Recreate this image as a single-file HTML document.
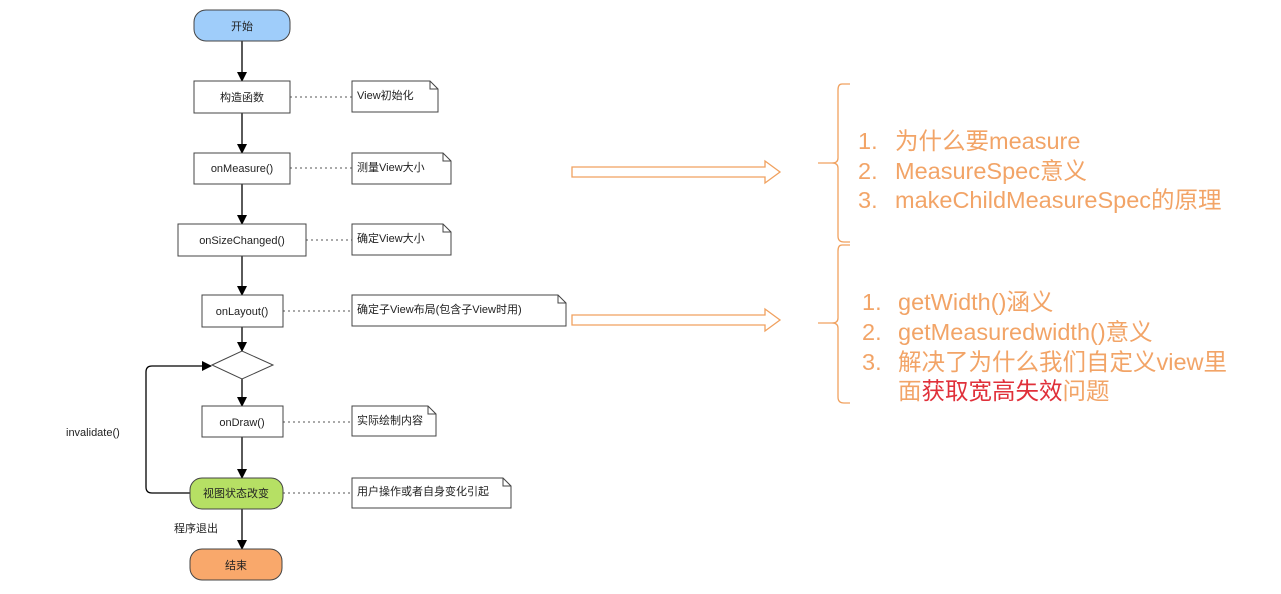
<!DOCTYPE html>
<html><head><meta charset="utf-8"><style>
body{margin:0;background:#fff;}
svg{display:block;font-family:"Liberation Sans","Noto Sans CJK SC",sans-serif;}
.n{font-size:11px;fill:#222;}
.o{font-size:23.5px;fill:#f2a467;font-family:"Liberation Sans","Noto Sans CJK SC",sans-serif;}
</style></head><body>
<svg width="1281" height="594" viewBox="0 0 1281 594">
<defs><marker id="a" markerWidth="10" markerHeight="10" refX="9" refY="5" orient="auto" markerUnits="userSpaceOnUse"><path d="M0,0 L10,5 L0,10 z" fill="#000"/></marker></defs>
<g stroke="#000" stroke-width="1.3" fill="none">
<line x1="242" y1="41" x2="242" y2="81" marker-end="url(#a)"/>
<line x1="242" y1="113" x2="242" y2="153" marker-end="url(#a)"/>
<line x1="242" y1="184" x2="242" y2="224" marker-end="url(#a)"/>
<line x1="242" y1="256" x2="242" y2="295" marker-end="url(#a)"/>
<line x1="242" y1="327" x2="242" y2="351" marker-end="url(#a)"/>
<line x1="242" y1="379" x2="242" y2="406" marker-end="url(#a)"/>
<line x1="242" y1="437" x2="242" y2="478" marker-end="url(#a)"/>
<line x1="242" y1="509" x2="242" y2="549" marker-end="url(#a)"/>
<path d="M190,493 L152,493 Q146,493 146,487 L146,372 Q146,366 152,366 L211,366" marker-end="url(#a)"/>
</g>
<g stroke="#555" stroke-width="1" stroke-dasharray="2,3">
<line x1="290" y1="97" x2="352" y2="97"/>
<line x1="290" y1="168" x2="352" y2="168"/>
<line x1="306" y1="240" x2="352" y2="240"/>
<line x1="283" y1="311" x2="352" y2="311"/>
<line x1="283" y1="422" x2="352" y2="422"/>
<line x1="283" y1="493" x2="352" y2="493"/>
</g>
<g stroke="#444" stroke-width="1" fill="#fff">
<rect x="194" y="10" width="96" height="31" rx="12" fill="#9fcdfa"/>
<rect x="194" y="81" width="96" height="32"/>
<rect x="194" y="153" width="96" height="31"/>
<rect x="178" y="224" width="128" height="32"/>
<rect x="202" y="295" width="81" height="32"/>
<polygon points="212,365 242,351 273,365 242,379"/>
<rect x="202" y="406" width="81" height="31"/>
<rect x="190" y="478" width="93" height="31" rx="12" fill="#b6e064"/>
<rect x="190" y="549" width="92" height="31" rx="12" fill="#f9a86b"/>
<path d="M352,81 H430 L438,89 V112 H352 Z M430,81 V89 H438"/>
<path d="M352,153 H443 L451,161 V184 H352 Z M443,153 V161 H451"/>
<path d="M352,224 H443 L451,232 V255 H352 Z M443,224 V232 H451"/>
<path d="M352,295 H558 L566,303 V326 H352 Z M558,295 V303 H566"/>
<path d="M352,406 H428 L436,414 V436 H352 Z M428,406 V414 H436"/>
<path d="M352,478 H503 L511,486 V508 H352 Z M503,478 V486 H511"/>
</g>
<g class="n" text-anchor="middle">
<text x="242" y="30">开始</text>
<text x="242" y="101">构造函数</text>
<text x="242" y="172">onMeasure()</text>
<text x="242" y="244">onSizeChanged()</text>
<text x="242" y="315">onLayout()</text>
<text x="242" y="426">onDraw()</text>
<text x="236" y="497">视图状态改变</text>
<text x="236" y="569">结束</text>
</g>
<g class="n">
<text x="357" y="99">View初始化</text>
<text x="357" y="171">测量View大小</text>
<text x="357" y="242">确定View大小</text>
<text x="357" y="313">确定子View布局(包含子View时用)</text>
<text x="357" y="424">实际绘制内容</text>
<text x="357" y="495">用户操作或者自身变化引起</text>
<text x="66" y="436">invalidate()</text>
<text x="174" y="532">程序退出</text>
</g>
<g stroke="#f0a15f" stroke-width="1.3" fill="#fff">
<path d="M572,167 H765 V161 L780,172 L765,183 V177 H572 Z"/>
<path d="M572,315 H765 V309 L780,320 L765,331 V325 H572 Z"/>
<path fill="none" d="M850,84 H842 Q838,84 838,90 V158 Q838,163 832,163 H818 H832 Q838,163 838,168 V236 Q838,242 844,242 H850"/>
<path fill="none" d="M850,245 H842 Q838,245 838,251 V318 Q838,323 832,323 H818 H832 Q838,323 838,328 V397 Q838,403 844,403 H850"/>
</g>
<g class="o">
<text x="858" y="149">1.</text><text x="895" y="149">为什么要measure</text>
<text x="858" y="179">2.</text><text x="895" y="179">MeasureSpec意义</text>
<text x="858" y="208">3.</text><text x="895" y="208">makeChildMeasureSpec的原理</text>
<text x="862" y="310">1.</text><text x="898" y="310">getWidth()涵义</text>
<text x="862" y="340">2.</text><text x="898" y="340">getMeasuredwidth()意义</text>
<text x="862" y="370">3.</text><text x="898" y="370">解决了为什么我们自定义view里</text>
<text x="898" y="399">面<tspan fill="#e0303a">获取宽高失效</tspan>问题</text>
</g>
</svg>
</body></html>
